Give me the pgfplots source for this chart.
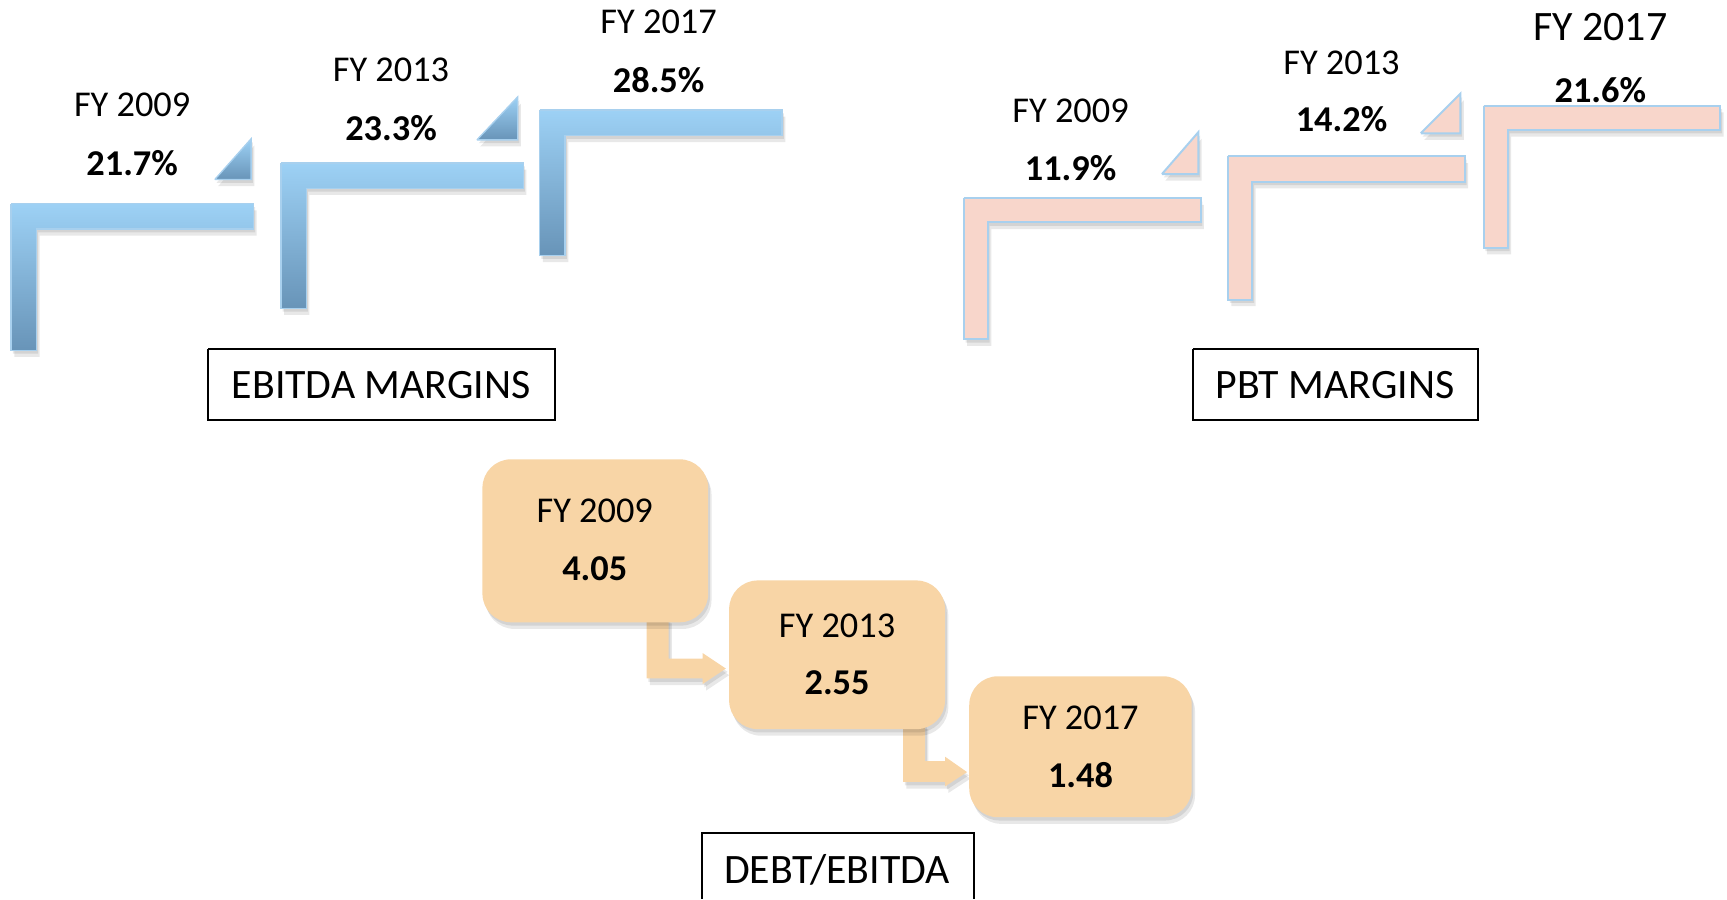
\documentclass[border=0pt]{standalone}
\usepackage{fontspec}
\setmainfont{Carlito}
\usepackage{pgfplots}
\usepackage{pgfplotstable}
\pgfplotsset{compat=1.18}

\definecolor{bluetop}{RGB}{157,209,245}
\definecolor{bluebot}{RGB}{104,148,184}
\definecolor{blueline}{RGB}{168,208,238}
\definecolor{pinkfill}{RGB}{248,214,203}
\definecolor{peach}{RGB}{248,213,166}

% label positions (pixel layout) and values
\pgfplotstableread{
x   yfy yval fy   val
120 95  148  2009 21.7
355 63  116  2013 23.3
598 20  73   2017 28.5
}\ebitdatab
\pgfplotstableread{
x    yfy yval fy   val
972  101 153  2009 11.9
1218 57  108  2013 14.2
1453 25  82   2017 21.6
}\pbttab
\pgfplotstableread{
x   yfy yval fy   val
540 464 516  2009 4.05
760 568 620  2013 2.55
981 652 704  2017 1.48
}\debttab

% a shape with its soft shadow (#1 shape style, #2 shadow extra, #3 coords)
\newcommand\shapeplot[3][]{%
  \addplot[draw=none, fill=black, opacity=0.09, xshift=1.5pt, yshift=-3pt, #1] coordinates {#3};
  \addplot[draw=none, fill=black, opacity=0.09, xshift=0.8pt, yshift=-1.5pt, #1] coordinates {#3};
  \addplot[#2] coordinates {#3};
}

\pgfplotsset{
  fylab/.style={draw=none, mark=none, point meta=explicit symbolic,
    nodes near coords={\fontsize{#1}{#1}\selectfont FY~\pgfplotspointmeta},
    every node near coord/.append style={anchor=center, inner sep=0pt}},
  fylab/.default=16.5,
  vallab/.style={draw=none, mark=none, point meta=explicit symbolic,
    nodes near coords={\bfseries\fontsize{16.5}{18}\selectfont\pgfplotspointmeta#1},
    every node near coord/.append style={anchor=center, inner sep=0pt}},
  ebstyle/.style={top color=bluetop, bottom color=bluebot, draw=blueline, line width=0.6pt},
  pbtstyle/.style={fill=pinkfill, draw=blueline, line width=0.9pt},
  debtstyle/.style={fill=peach, draw=none, rounded corners=13pt},
  frame/.style={draw=black, line width=0.9pt, fill=none},
}

\begin{document}
\begin{tikzpicture}
\begin{axis}[
  width=784pt, height=408pt, scale only axis,
  xmin=0, xmax=1568, ymin=0, ymax=816, y dir=reverse,
  axis line style={draw=none}, xtick=\empty, ytick=\empty,
  clip=false,
]
% EBITDA margins
\shapeplot{ebstyle}{(10,185) (230,185) (230,208) (33,208) (33,318) (10,318) (10,185)}
\shapeplot{ebstyle}{(255,148) (475,148) (475,171) (278,171) (278,280) (255,280) (255,148)}
\shapeplot{ebstyle}{(490,100) (710,100) (710,123) (513,123) (513,232) (490,232) (490,100)}
\shapeplot{ebstyle}{(195,163) (228,163) (228,126) (195,163)}
\shapeplot{ebstyle}{(433,127) (470,127) (470,88) (433,127)}

% PBT margins
\shapeplot{pbtstyle}{(875,180) (1090,180) (1090,202) (897,202) (897,308) (875,308) (875,180)}
\shapeplot{pbtstyle}{(1115,142) (1330,142) (1330,165) (1137,165) (1137,272) (1115,272) (1115,142)}
\shapeplot{pbtstyle}{(1347,96) (1562,96) (1562,118) (1369,118) (1369,225) (1347,225) (1347,96)}
\shapeplot{pbtstyle}{(1055,158) (1088,158) (1088,120) (1055,158)}
\shapeplot{pbtstyle}{(1290,121) (1326,121) (1326,85) (1290,121)}

% Debt/EBITDA
\shapeplot{fill=peach, draw=none}{(587,560) (607,560) (607,598) (638,598) (638,593) (659,607) (638,621) (638,616) (587,616) (587,560)}
\shapeplot{fill=peach, draw=none}{(820,656) (840,656) (840,691) (858,691) (858,687) (878,701) (858,714) (858,710) (820,710) (820,656)}
\shapeplot[rounded corners=13pt]{debtstyle}{(540,417) (643,417) (643,565) (438,565) (438,417) (540,417)}
\shapeplot[rounded corners=13pt]{debtstyle}{(760,527) (858,527) (858,662) (662,662) (662,527) (760,527)}
\shapeplot[rounded corners=13pt]{debtstyle}{(981,614) (1082,614) (1082,742) (880,742) (880,614) (981,614)}

% labels
\addplot[fylab] table[x=x, y=yfy, meta=fy] {\ebitdatab};
\addplot[vallab=\%] table[x=x, y=yval, meta=val] {\ebitdatab};
\addplot[fylab, skip coords between index={2}{3}] table[x=x, y=yfy, meta=fy] {\pbttab};
\addplot[fylab=19, skip coords between index={0}{2}] table[x=x, y=yfy, meta=fy] {\pbttab};
\addplot[vallab=\%] table[x=x, y=yval, meta=val] {\pbttab};
\addplot[fylab] table[x=x, y=yfy, meta=fy] {\debttab};
\addplot[vallab={}] table[x=x, y=yval, meta=val] {\debttab};

% titles
\addplot[frame] coordinates {(189,317) (504,317) (504,381) (189,381) (189,317)};
\addplot[frame] coordinates {(1083,317) (1342,317) (1342,381) (1083,381) (1083,317)};
\addplot[frame] coordinates {(637,816) (637,756) (884,756) (884,816)};
\node[font=\fontsize{19}{22}\selectfont] at (axis cs:346,350) {EBITDA MARGINS};
\node[font=\fontsize{19}{22}\selectfont] at (axis cs:1212,350) {PBT MARGINS};
\node[font=\fontsize{19}{22}\selectfont] at (axis cs:760,790) {DEBT/EBITDA};
\end{axis}
\end{tikzpicture}
\end{document}
